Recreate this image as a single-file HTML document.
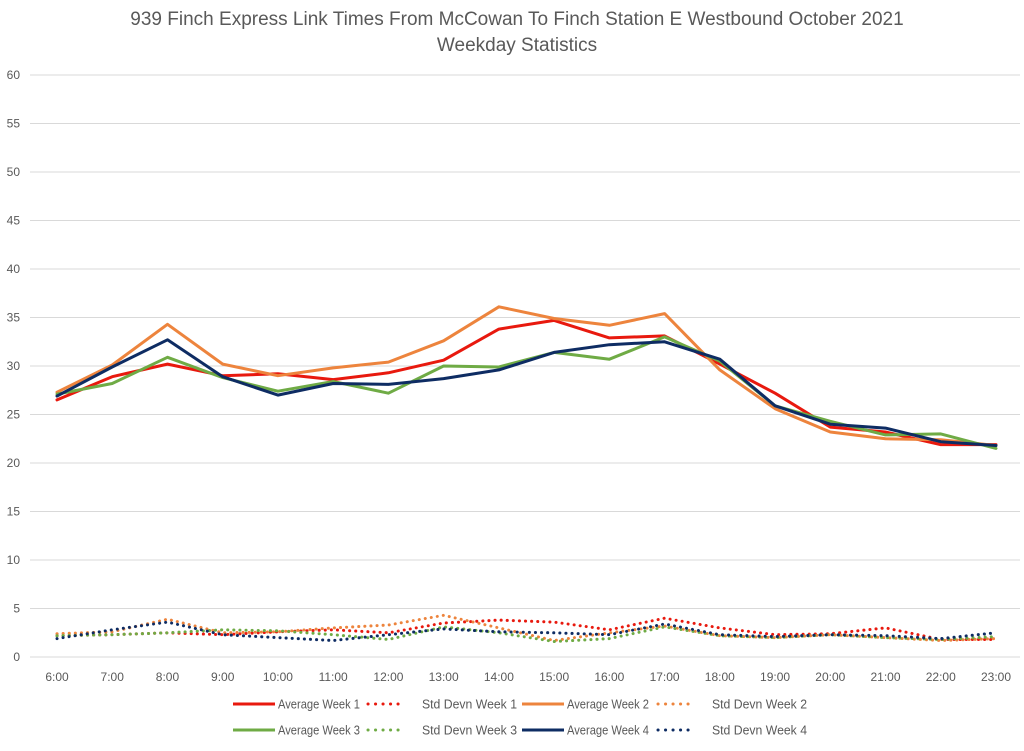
<!DOCTYPE html>
<html><head><meta charset="utf-8"><style>
body{margin:0;background:#fff;font-family:"Liberation Sans",Arial,sans-serif;}
svg text{font-family:"Liberation Sans",Arial,sans-serif;fill:#595959;}
</style></head><body>
<svg id="chart" width="1024" height="746" xmlns="http://www.w3.org/2000/svg">
<text x="517" y="25" text-anchor="middle" font-size="19">939 Finch Express Link Times From McCowan To Finch Station E Westbound October 2021</text>
<text x="517" y="51" text-anchor="middle" font-size="19">Weekday Statistics</text>
<g id="grid"></g><g id="series"></g><g id="legend"></g>
</svg>
<script>
const categories=["6:00","7:00","8:00","9:00","10:00","11:00","12:00","13:00","14:00","15:00","16:00","17:00","18:00","19:00","20:00","21:00","22:00","23:00"];
const yTicks=[0,5,10,15,20,25,30,35,40,45,50,55,60];
const avgW1=[26.5,28.9,30.2,29.0,29.2,28.6,29.3,30.6,33.8,34.7,32.9,33.1,30.2,27.2,23.7,23.2,21.9,21.9];
const avgW2=[27.3,30.1,34.3,30.2,29.0,29.8,30.4,32.6,36.1,34.9,34.2,35.4,29.6,25.6,23.2,22.5,22.4,21.8];
const avgW3=[27.1,28.2,30.9,28.8,27.4,28.4,27.2,30.0,29.9,31.4,30.7,33.0,30.5,25.9,24.3,22.9,23.0,21.5];
const avgW4=[26.9,29.9,32.7,28.9,27.0,28.2,28.1,28.7,29.6,31.4,32.2,32.5,30.7,25.9,24.0,23.6,22.2,21.8];
const sdW1=[2.2,2.3,2.5,2.3,2.6,2.8,2.5,3.5,3.8,3.6,2.8,4.0,3.0,2.3,2.4,3.0,1.8,1.8];
const sdW2=[2.4,2.6,3.9,2.5,2.6,3.0,3.3,4.3,3.0,1.7,2.5,3.2,2.2,2.0,2.3,2.0,1.7,1.9];
const sdW3=[2.2,2.3,2.5,2.8,2.7,2.3,1.8,3.1,2.5,1.6,1.9,3.1,2.2,2.0,2.3,2.0,1.8,2.1];
const sdW4=[1.9,2.8,3.6,2.3,2.0,1.7,2.3,2.9,2.6,2.5,2.3,3.4,2.3,2.1,2.3,2.2,1.9,2.5];
const NS="http://www.w3.org/2000/svg";
const X0=57,X1=996,Y0=657,YT=75,L=30,R=1020;
const x=i=>X0+i*(X1-X0)/(categories.length-1);
const y=v=>Y0-v*(Y0-YT)/60;
function mk(tag,attrs,parent){const e=document.createElementNS(NS,tag);for(const k in attrs)e.setAttribute(k,attrs[k]);parent.appendChild(e);return e;}
const grid=document.getElementById('grid');
yTicks.forEach(t=>{
 const l=mk('line',{x1:L,x2:R,y1:y(t),y2:y(t),stroke:'#d9d9d9','stroke-width':1},grid);
 
 
 const tx=mk('text',{x:20,y:y(t)+4,'text-anchor':'end','font-size':12},grid);tx.textContent=t;
 
 
});
categories.forEach((c,i)=>{
 const tx=mk('text',{x:x(i),y:681,'text-anchor':'middle','font-size':12},grid);tx.textContent=c;
 
 
});
const series=[
 {n:'Average Week 1',d:avgW1,c:'#e8190e',dot:false},
 {n:'Std Devn Week 1',d:sdW1,c:'#e8190e',dot:true},
 {n:'Average Week 2',d:avgW2,c:'#ed843d',dot:false},
 {n:'Std Devn Week 2',d:sdW2,c:'#ed843d',dot:true},
 {n:'Average Week 3',d:avgW3,c:'#6fab45',dot:false},
 {n:'Std Devn Week 3',d:sdW3,c:'#6fab45',dot:true},
 {n:'Average Week 4',d:avgW4,c:'#0e2c63',dot:false},
 {n:'Std Devn Week 4',d:sdW4,c:'#0e2c63',dot:true}];
const colX=[233,367,522,657];
const sg=document.getElementById('series'),lg=document.getElementById('legend');
series.forEach((s,k)=>{
 const pts=s.d.map((v,i)=>x(i).toFixed(1)+','+y(v).toFixed(1)).join(' ');
 const a={points:pts,fill:'none',stroke:s.c,'stroke-width':3,'stroke-linejoin':'round','stroke-linecap':'round'};
 if(s.dot){a['stroke-dasharray']='0.1 6';}
 const p=mk('polyline',a,sg);
 
 
 const col=k%4,row=Math.floor(k/4);
 const lx=colX[col],ly=704+row*26;
 const la={x1:s.dot?lx+1:lx,x2:s.dot?lx+38:lx+42,y1:ly,y2:ly,stroke:s.c,'stroke-width':3,'stroke-linecap':s.dot?'round':'butt'};
 if(s.dot)la['stroke-dasharray']='0.1 7.4';
 const ln=mk('line',la,lg);
 
 
 const t=mk('text',{x:s.dot?lx+55:lx+45,y:ly+4.5,'font-size':13,textLength:s.dot?95:82,lengthAdjust:'spacingAndGlyphs'},lg);t.textContent=s.n;
 
 
});
</script>
</body></html>
